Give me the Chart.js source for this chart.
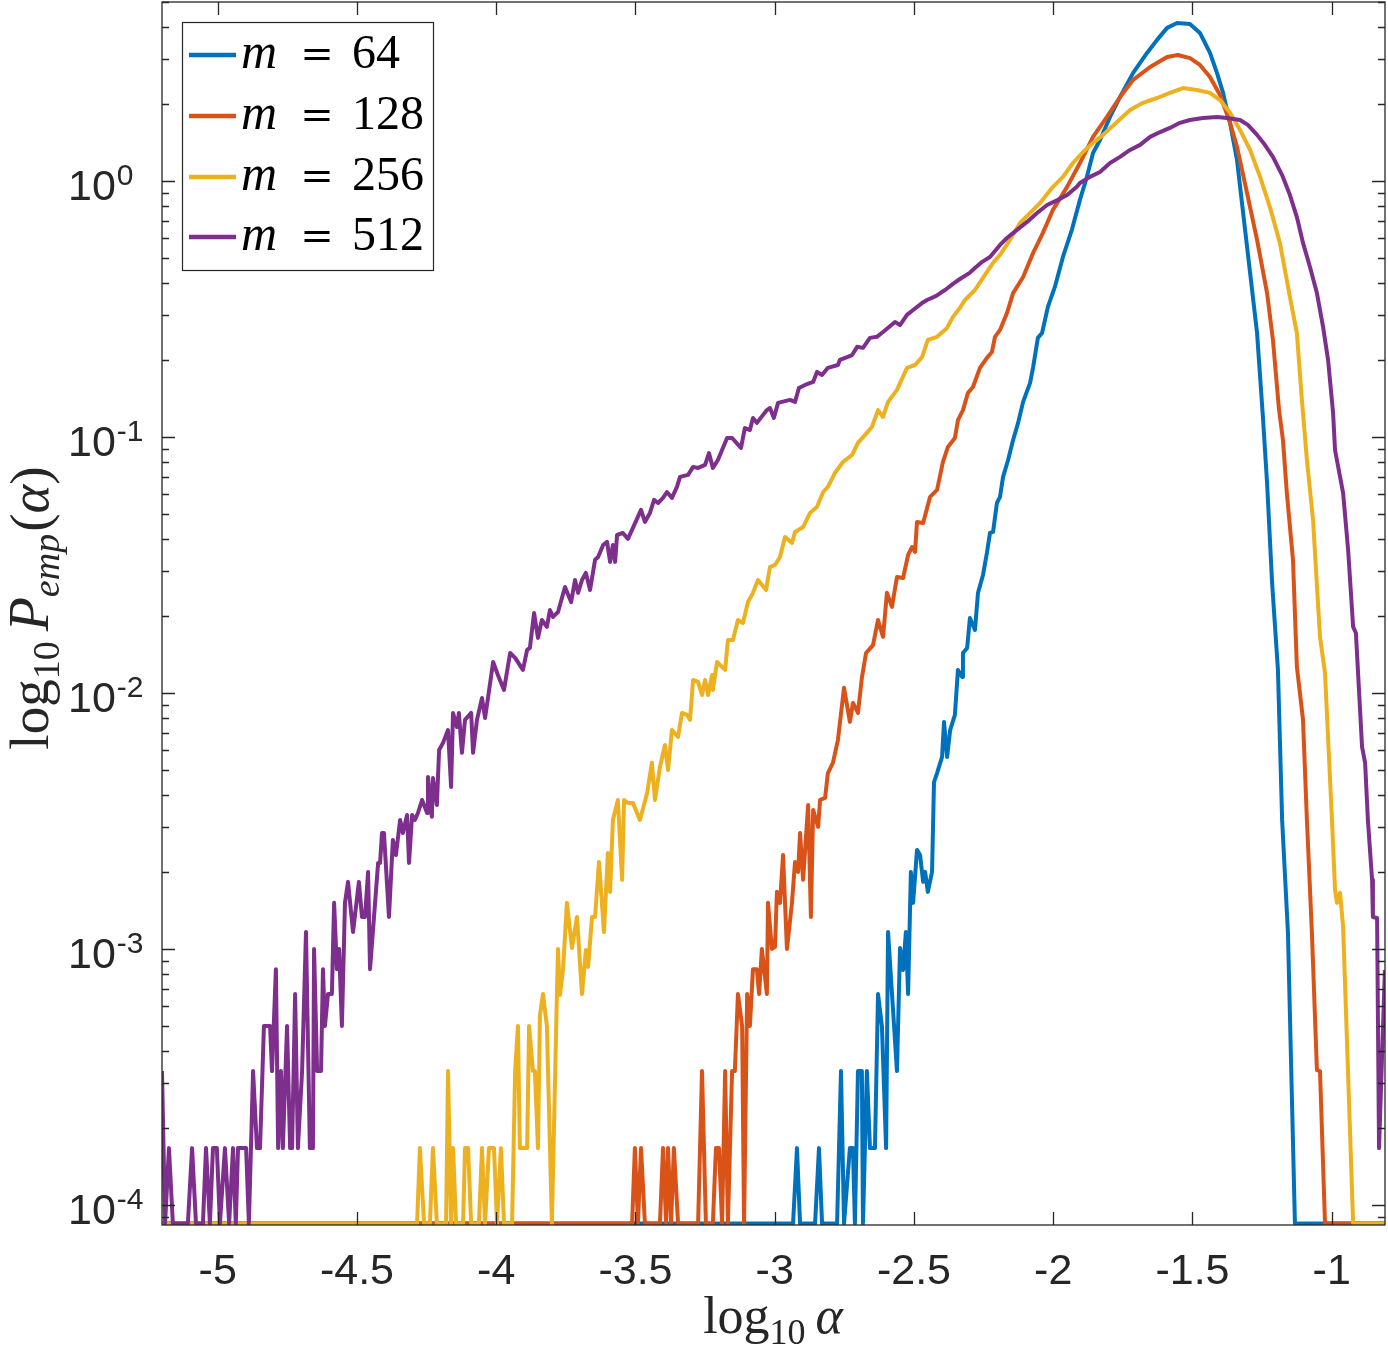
<!DOCTYPE html>
<html><head><meta charset="utf-8">
<script src="https://cdn.jsdelivr.net/npm/chart.js@4.4.1/dist/chart.umd.min.js"></script>
<style>html,body{margin:0;padding:0;background:#fff;}#wrap{width:1388px;height:1348px;position:relative;}canvas{display:block;}</style>
</head><body><div id="wrap"><canvas id="c" width="1388" height="1348"></canvas></div>
<script>
// ---- axis / legend content ----
const xTickValues = [-5,-4.5,-4,-3.5,-3,-2.5,-2,-1.5,-1];
const xTickLabels = ['-5','-4.5','-4','-3.5','-3','-2.5','-2','-1.5','-1'];
const yTickExponents = [0,-1,-2,-3,-4];
const seriesM = [64,128,256,512];
const seriesColors = ['#0072BD','#D95319','#EDB120','#7E2F8E'];

// ---- data: x = log10(alpha), lp = log10(P_emp) ----
const m64_x = [
-5.200,-2.934,-2.920,-2.909,-2.855,-2.841,-2.830,-2.776,-2.762,-2.751,
-2.730,-2.719,-2.712,-2.701,-2.687,-2.683,-2.669,-2.658,-2.640,-2.629,
-2.615,-2.600,-2.593,-2.561,-2.550,-2.539,-2.529,-2.521,-2.511,-2.503,
-2.489,-2.478,-2.467,-2.460,-2.450,-2.435,-2.428,-2.417,-2.399,-2.392,
-2.381,-2.370,-2.353,-2.342,-2.327,-2.324,-2.309,-2.299,-2.281,-2.270,
-2.252,-2.238,-2.227,-2.216,-2.202,-2.191,-2.180,-2.162,-2.144,-2.126,
-2.108,-2.083,-2.072,-2.055,-2.040,-2.019,-1.994,-1.965,-1.933,-1.904,
-1.879,-1.857,-1.832,-1.796,-1.760,-1.713,-1.663,-1.627,-1.591,-1.555,
-1.509,-1.473,-1.437,-1.412,-1.390,-1.365,-1.340,-1.318,-1.293,-1.268,
-1.247,-1.232,-1.214,-1.193,-1.178,-1.157,-1.132,-0.809];
const m64_lp = [
-4.072,-4.072,-3.778,-4.072,-4.072,-3.778,-4.072,-4.072,-3.477,-4.072,
-3.778,-3.778,-4.072,-3.477,-3.477,-4.072,-3.477,-3.778,-3.778,-3.176,
-3.301,-3.778,-2.934,-3.477,-2.996,-3.082,-2.934,-3.176,-2.699,-2.820,
-2.613,-2.633,-2.738,-2.699,-2.777,-2.699,-2.348,-2.313,-2.250,-2.113,
-2.250,-2.145,-2.086,-1.910,-1.938,-1.844,-1.824,-1.707,-1.754,-1.609,
-1.539,-1.453,-1.375,-1.371,-1.258,-1.234,-1.156,-1.090,-1.012,-0.945,
-0.863,-0.789,-0.727,-0.613,-0.594,-0.492,-0.414,-0.297,-0.191,-0.074,
0.016,0.109,0.160,0.250,0.328,0.422,0.500,0.551,0.598,0.617,
0.613,0.578,0.500,0.422,0.344,0.227,0.082,-0.125,-0.359,-0.594,
-0.922,-1.180,-1.570,-1.910,-2.496,-2.938,-4.072,-4.072];

const m128_x = [
-5.200,-3.512,-3.502,-3.491,-3.480,-3.466,-3.412,-3.401,-3.390,-3.383,
-3.372,-3.362,-3.347,-3.275,-3.261,-3.247,-3.222,-3.211,-3.200,-3.189,
-3.178,-3.168,-3.153,-3.143,-3.132,-3.117,-3.110,-3.099,-3.089,-3.078,
-3.064,-3.056,-3.046,-3.028,-3.024,-3.010,-2.999,-2.992,-2.981,-2.970,
-2.956,-2.938,-2.927,-2.916,-2.909,-2.898,-2.880,-2.870,-2.862,-2.844,
-2.837,-2.819,-2.809,-2.791,-2.773,-2.751,-2.730,-2.719,-2.701,-2.687,
-2.672,-2.647,-2.629,-2.611,-2.597,-2.579,-2.561,-2.539,-2.521,-2.507,
-2.496,-2.489,-2.467,-2.442,-2.417,-2.396,-2.378,-2.353,-2.342,-2.324,
-2.306,-2.288,-2.263,-2.238,-2.220,-2.209,-2.191,-2.166,-2.144,-2.108,
-2.072,-2.037,-2.001,-1.950,-1.904,-1.857,-1.807,-1.760,-1.713,-1.652,
-1.591,-1.552,-1.509,-1.473,-1.437,-1.401,-1.365,-1.340,-1.304,-1.268,
-1.232,-1.211,-1.189,-1.175,-1.161,-1.139,-1.125,-1.103,-1.089,-1.071,
-1.053,-1.042,-1.024,-0.809];
const m128_lp = [
-4.072,-4.072,-3.778,-4.072,-3.778,-4.072,-4.072,-3.778,-4.072,-3.778,
-4.072,-3.778,-4.072,-4.072,-3.477,-4.072,-4.072,-3.778,-3.778,-4.072,
-3.477,-4.072,-3.477,-3.477,-3.176,-3.301,-4.072,-3.176,-3.301,-3.079,
-3.079,-3.176,-3.000,-3.176,-2.820,-3.000,-2.992,-2.777,-2.820,-2.633,
-3.000,-2.820,-2.660,-2.699,-2.547,-2.730,-2.438,-2.875,-2.457,-2.523,
-2.418,-2.410,-2.313,-2.273,-2.184,-1.980,-2.113,-2.039,-2.078,-1.941,
-1.844,-1.813,-1.715,-1.781,-1.609,-1.664,-1.547,-1.551,-1.461,-1.430,
-1.449,-1.332,-1.336,-1.234,-1.207,-1.098,-1.039,-1.004,-0.934,-0.895,
-0.828,-0.805,-0.730,-0.691,-0.668,-0.609,-0.582,-0.516,-0.438,-0.375,
-0.281,-0.203,-0.113,-0.023,0.070,0.172,0.250,0.328,0.395,0.445,
0.484,0.492,0.480,0.453,0.406,0.336,0.227,0.133,-0.047,-0.230,
-0.438,-0.621,-0.895,-1.012,-1.219,-1.480,-1.898,-2.105,-2.496,-2.938,
-3.473,-3.477,-4.072,-4.072];

const m256_x = [
-5.200,-4.284,-4.274,-4.259,-4.238,-4.227,-4.213,-4.180,-4.173,-4.162,
-4.155,-4.144,-4.119,-4.112,-4.101,-4.090,-4.062,-4.051,-4.040,-4.026,
-4.008,-3.997,-3.983,-3.972,-3.943,-3.932,-3.922,-3.915,-3.889,-3.882,
-3.868,-3.861,-3.850,-3.843,-3.832,-3.818,-3.800,-3.782,-3.778,-3.771,
-3.760,-3.746,-3.728,-3.710,-3.692,-3.678,-3.670,-3.656,-3.645,-3.631,
-3.613,-3.599,-3.591,-3.581,-3.563,-3.548,-3.541,-3.527,-3.509,-3.484,
-3.458,-3.441,-3.430,-3.412,-3.394,-3.383,-3.369,-3.347,-3.333,-3.315,
-3.304,-3.293,-3.275,-3.261,-3.250,-3.239,-3.225,-3.222,-3.207,-3.178,
-3.168,-3.150,-3.132,-3.114,-3.096,-3.078,-3.060,-3.031,-3.017,-2.999,
-2.981,-2.963,-2.938,-2.927,-2.898,-2.873,-2.848,-2.826,-2.809,-2.784,
-2.755,-2.722,-2.701,-2.669,-2.651,-2.629,-2.611,-2.593,-2.561,-2.525,
-2.496,-2.471,-2.450,-2.417,-2.381,-2.360,-2.335,-2.317,-2.281,-2.245,
-2.216,-2.191,-2.155,-2.119,-2.083,-2.047,-2.001,-1.965,-1.929,-1.893,
-1.857,-1.821,-1.771,-1.724,-1.678,-1.627,-1.581,-1.534,-1.484,-1.437,
-1.401,-1.365,-1.329,-1.293,-1.257,-1.222,-1.186,-1.150,-1.125,-1.107,
-1.089,-1.067,-1.042,-1.024,-0.999,-0.988,-0.981,-0.970,-0.959,-0.923,
-0.809];
const m256_lp = [
-4.072,-4.072,-3.778,-4.072,-4.072,-3.778,-4.072,-4.072,-3.477,-4.072,
-3.778,-4.072,-4.072,-3.778,-3.778,-4.072,-4.072,-3.778,-4.072,-3.778,
-3.778,-4.072,-3.778,-4.072,-4.072,-3.477,-3.301,-3.778,-3.778,-3.301,
-3.477,-3.477,-3.778,-3.260,-3.176,-3.301,-4.072,-3.176,-3.000,-3.180,
-3.079,-2.820,-2.996,-2.875,-3.176,-3.004,-3.070,-2.875,-2.875,-2.660,
-2.934,-2.625,-2.777,-2.496,-2.418,-2.730,-2.418,-2.430,-2.430,-2.496,
-2.391,-2.273,-2.418,-2.289,-2.203,-2.301,-2.145,-2.172,-2.078,-2.086,
-2.105,-1.949,-1.957,-2.008,-1.949,-2.008,-1.930,-1.988,-1.879,-1.910,
-1.793,-1.793,-1.715,-1.727,-1.645,-1.609,-1.559,-1.598,-1.508,-1.500,
-1.469,-1.391,-1.414,-1.371,-1.352,-1.297,-1.273,-1.215,-1.195,-1.141,
-1.098,-1.070,-1.023,-0.984,-0.961,-0.895,-0.922,-0.863,-0.816,-0.730,
-0.719,-0.688,-0.621,-0.609,-0.574,-0.531,-0.496,-0.465,-0.426,-0.367,
-0.320,-0.289,-0.230,-0.164,-0.125,-0.086,-0.023,0.016,0.070,0.113,
0.148,0.180,0.230,0.277,0.305,0.324,0.344,0.363,0.355,0.344,
0.316,0.266,0.199,0.121,0.016,-0.102,-0.242,-0.453,-0.594,-0.855,
-1.090,-1.324,-1.781,-1.922,-2.496,-2.770,-2.820,-2.781,-2.914,-4.072,
-4.072];

const m512_x = [
-5.200,-5.189,-5.175,-5.161,-5.107,-5.092,-5.078,-5.053,-5.042,-5.028,
-5.017,-5.003,-4.992,-4.974,-4.959,-4.945,-4.935,-4.927,-4.898,-4.888,
-4.873,-4.859,-4.848,-4.834,-4.812,-4.805,-4.791,-4.783,-4.773,-4.766,
-4.751,-4.740,-4.733,-4.722,-4.712,-4.697,-4.683,-4.669,-4.658,-4.654,
-4.643,-4.629,-4.622,-4.615,-4.604,-4.590,-4.582,-4.572,-4.564,-4.554,
-4.543,-4.532,-4.514,-4.493,-4.482,-4.471,-4.460,-4.453,-4.424,-4.417,
-4.410,-4.403,-4.385,-4.371,-4.360,-4.345,-4.335,-4.320,-4.313,-4.302,
-4.292,-4.281,-4.266,-4.248,-4.245,-4.231,-4.227,-4.213,-4.205,-4.191,
-4.173,-4.162,-4.155,-4.141,-4.134,-4.123,-4.112,-4.090,-4.083,-4.069,
-4.051,-4.040,-4.029,-4.011,-3.994,-3.972,-3.950,-3.932,-3.904,-3.889,
-3.879,-3.864,-3.850,-3.836,-3.818,-3.807,-3.796,-3.778,-3.753,-3.731,
-3.717,-3.706,-3.692,-3.678,-3.663,-3.645,-3.634,-3.616,-3.602,-3.591,
-3.581,-3.573,-3.566,-3.545,-3.527,-3.509,-3.480,-3.466,-3.448,-3.433,
-3.419,-3.401,-3.387,-3.369,-3.351,-3.340,-3.311,-3.293,-3.275,-3.250,
-3.236,-3.222,-3.204,-3.171,-3.153,-3.121,-3.107,-3.089,-3.078,-3.064,
-3.028,-3.017,-3.003,-2.988,-2.974,-2.945,-2.927,-2.913,-2.891,-2.862,
-2.848,-2.830,-2.809,-2.773,-2.766,-2.740,-2.722,-2.704,-2.683,-2.658,
-2.633,-2.611,-2.568,-2.550,-2.525,-2.503,-2.471,-2.453,-2.420,-2.400,
-2.388,-2.360,-2.335,-2.300,-2.281,-2.255,-2.227,-2.191,-2.166,-2.130,
-2.094,-2.058,-2.022,-1.983,-1.950,
-1.915,-1.904,-1.868,-1.832,-1.796,-1.760,-1.724,-1.688,-1.652,-1.616,
-1.581,-1.545,-1.509,-1.462,-1.412,-1.376,-1.329,-1.301,-1.268,-1.240,
-1.211,-1.178,-1.150,-1.125,-1.103,-1.078,-1.053,-1.031,-1.013,-0.995,
-0.988,-0.959,-0.941,-0.923,-0.913,-0.891,-0.880,-0.870,-0.855,-0.852,
-0.837,-0.830,-0.809];
const m512_lp = [
-3.477,-4.072,-3.778,-4.072,-4.072,-3.778,-4.072,-4.072,-3.778,-4.072,
-3.778,-3.778,-4.072,-3.778,-4.072,-3.778,-4.072,-3.778,-3.778,-4.072,
-3.477,-3.778,-3.778,-3.301,-3.301,-3.477,-3.079,-3.778,-3.477,-3.778,
-3.301,-3.778,-3.778,-3.176,-3.778,-3.477,-2.934,-3.778,-3.778,-3.000,
-3.477,-3.477,-3.079,-3.301,-3.176,-3.176,-2.820,-3.079,-3.000,-3.301,
-2.820,-2.738,-2.934,-2.738,-2.875,-2.875,-2.699,-3.079,-2.664,-2.664,
-2.547,-2.547,-2.875,-2.574,-2.633,-2.496,-2.547,-2.477,-2.664,-2.477,
-2.496,-2.469,-2.418,-2.469,-2.328,-2.484,-2.332,-2.438,-2.223,-2.195,
-2.145,-2.367,-2.078,-2.133,-2.078,-2.234,-2.105,-2.078,-2.234,-2.105,
-2.020,-2.098,-2.016,-1.879,-1.930,-1.988,-1.844,-1.863,-1.910,-1.832,
-1.824,-1.688,-1.785,-1.715,-1.742,-1.676,-1.703,-1.684,-1.586,-1.645,
-1.559,-1.609,-1.559,-1.531,-1.598,-1.480,-1.469,-1.422,-1.410,-1.488,
-1.422,-1.488,-1.383,-1.375,-1.398,-1.355,-1.285,-1.332,-1.297,-1.246,
-1.258,-1.238,-1.215,-1.238,-1.195,-1.156,-1.148,-1.117,-1.121,-1.109,
-1.063,-1.121,-1.090,-1.004,-1.004,-1.043,-0.965,-0.973,-0.926,-0.945,
-0.895,-0.887,-0.926,-0.867,-0.863,-0.855,-0.863,-0.809,-0.797,-0.785,
-0.746,-0.758,-0.730,-0.719,-0.699,-0.688,-0.680,-0.648,-0.652,-0.613,
-0.609,-0.590,-0.551,-0.563,-0.523,-0.504,-0.477,-0.465,-0.449,-0.434,
-0.426,-0.402,-0.383,-0.359,-0.340,-0.316,-0.297,-0.250,-0.223,-0.191,
-0.160,-0.125,-0.094,-0.074,-0.055,
-0.023,-0.008,0.016,0.035,0.070,0.094,0.121,0.141,0.172,0.191,
0.207,0.227,0.238,0.246,0.250,0.246,0.238,0.219,0.180,0.141,
0.094,0.023,-0.055,-0.141,-0.242,-0.336,-0.438,-0.570,-0.699,-0.906,
-1.051,-1.219,-1.441,-1.742,-1.766,-2.211,-2.273,-2.496,-2.730,-2.875,
-2.879,-3.778,-3.082];

function toPoints(xs, lps){
  const n = Math.min(xs.length, lps.length), out = [];
  for (let i = 0; i < n; i++) out.push({x: xs[i], y: Math.pow(10, lps[i])});
  return out;
}
const seriesX = [m64_x, m128_x, m256_x, m512_x];
const seriesLP = [m64_lp, m128_lp, m256_lp, m512_lp];

const AX = '#262626';
const SANS = '"Liberation Sans", Arial, Helvetica, sans-serif';
const SERIF = '"Liberation Serif", "Times New Roman", serif';

function drawRuns(ctx, runs, x, y, align){
  let w = 0;
  runs.forEach(r => { ctx.font = r.f; r.w = ctx.measureText(r.t).width; w += r.w + (r.gap||0); });
  let cx = align === 'center' ? x - w/2 : x;
  runs.forEach(r => { ctx.font = r.f; ctx.fillText(r.t, cx, y + (r.dy||0)); cx += r.w + (r.gap||0); });
}

const axesPlugin = {
  id: 'matlabAxes',
  afterDatasetsDraw(chart){
    const {ctx, chartArea: a, scales} = chart;
    const xs = scales.x, ys = scales.y;
    ctx.save();
    ctx.strokeStyle = AX; ctx.lineWidth = 1.3; ctx.lineCap = 'butt';
    ctx.strokeRect(a.left, a.top, a.right - a.left, a.bottom - a.top);
    // x ticks
    ctx.beginPath();
    xTickValues.forEach(v => {
      const px = Math.round(xs.getPixelForValue(v)) + 0.5;
      ctx.moveTo(px, a.bottom); ctx.lineTo(px, a.bottom - 13);
      ctx.moveTo(px, a.top); ctx.lineTo(px, a.top + 13);
    });
    // y ticks
    for (let d = -5; d <= 0; d++) {
      for (let k = 1; k <= 9; k++) {
        const v = k * Math.pow(10, d);
        if (v < ys.min * 0.999 || v > ys.max * 1.001) continue;
        const py = Math.round(ys.getPixelForValue(v)) + 0.5;
        const L = k === 1 ? 13 : 7;
        ctx.moveTo(a.left, py); ctx.lineTo(a.left + L, py);
        ctx.moveTo(a.right, py); ctx.lineTo(a.right - L, py);
      }
    }
    ctx.stroke();
    // x tick labels
    ctx.fillStyle = AX; ctx.textBaseline = 'alphabetic'; ctx.textAlign = 'center';
    ctx.font = '43px ' + SANS;
    xTickValues.forEach((v, i) => {
      ctx.fillText(xTickLabels[i], xs.getPixelForValue(v), 1284);
    });
    // y tick labels 10^k
    ctx.textAlign = 'left';
    yTickExponents.forEach(e => {
      const py = ys.getPixelForValue(Math.pow(10, e));
      drawRuns(ctx, [
        {t: '10', f: '43px ' + SANS, gap: 1},
        {t: String(e), f: '30px ' + SANS, dy: -15}
      ], 68, py + 19, 'left');
    });
    // x title
    ctx.fillStyle = '#262626';
    drawRuns(ctx, [
      {t: 'log', f: '52px ' + SERIF},
      {t: '10', f: '36px ' + SERIF, dy: 11, gap: 10},
      {t: 'α', f: 'italic 52px ' + SERIF}
    ], 773, 1333, 'center');
    // y title (rotated)
    ctx.save();
    ctx.translate(48, 608);
    ctx.rotate(-Math.PI/2);
    drawRuns(ctx, [
      {t: 'log', f: '55px ' + SERIF},
      {t: '10', f: '38px ' + SERIF, dy: 11, gap: 10},
      {t: 'P', f: 'italic 56px ' + SERIF},
      {t: 'emp', f: 'italic 38px ' + SERIF, dy: 11, gap: 2},
      {t: '(', f: '55px ' + SERIF},
      {t: 'α', f: 'italic 55px ' + SERIF},
      {t: ')', f: '55px ' + SERIF}
    ], 0, 0, 'center');
    ctx.restore();
    // legend
    const L = {x: 182, y: 22, w: 251, h: 248};
    ctx.fillStyle = '#ffffff';
    ctx.fillRect(L.x, L.y, L.w, L.h);
    ctx.strokeStyle = AX; ctx.lineWidth = 1.2;
    ctx.strokeRect(L.x + 0.5, L.y + 0.5, L.w, L.h);
    const rowY = [55, 116, 177, 237];
    seriesM.forEach((m, i) => {
      const cy = rowY[i];
      ctx.strokeStyle = seriesColors[i]; ctx.lineWidth = 4.5;
      ctx.beginPath(); ctx.moveTo(189, cy); ctx.lineTo(236, cy); ctx.stroke();
      ctx.fillStyle = '#000';
      ctx.textAlign = 'left';
      ctx.font = 'italic 50px ' + SERIF; ctx.fillText('m', 241, cy + 13);
      ctx.font = '40px "DejaVu Serif", ' + SERIF;
      ctx.textAlign = 'center'; ctx.fillText('=', 317, cy + 12);
      ctx.font = '48px ' + SERIF;
      ctx.textAlign = 'left'; ctx.fillText(String(m), 352, cy + 13);
    });
    ctx.restore();
  }
};

const datasets = seriesM.map((m, i) => ({
  label: 'm = ' + m,
  data: toPoints(seriesX[i], seriesLP[i]),
  borderColor: seriesColors[i],
  backgroundColor: seriesColors[i],
  borderWidth: 4,
  pointRadius: 0,
  tension: 0,
  fill: false,
  borderJoinStyle: 'round',
  order: 3 - i
}));

new Chart(document.getElementById('c').getContext('2d'), {
  type: 'line',
  data: {datasets},
  options: {
    responsive: false,
    animation: false,
    devicePixelRatio: 1,
    layout: {padding: {left: 162, top: 2, right: 3, bottom: 123}},
    plugins: {legend: {display: false}, tooltip: {enabled: false}},
    scales: {
      x: {type: 'linear', min: -5.2, max: -0.8086, display: false},
      y: {type: 'logarithmic', min: Math.pow(10, -4.0783), max: Math.pow(10, 0.699), display: false}
    }
  },
  plugins: [axesPlugin]
});
</script></body></html>
